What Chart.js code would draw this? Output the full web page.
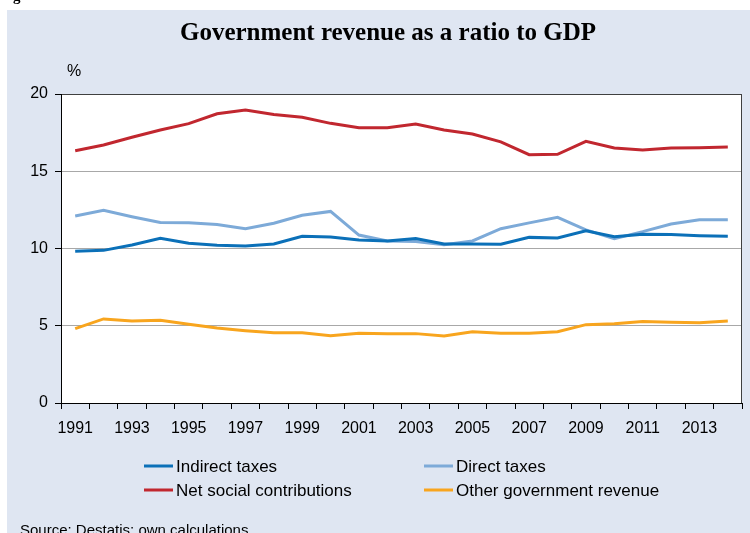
<!DOCTYPE html>
<html>
<head>
<meta charset="utf-8">
<script src="https://cdn.jsdelivr.net/npm/chart.js@4.4.0/dist/chart.umd.min.js"></script>
<style>
  body { margin: 0; background: #fff; }
  canvas { display: block; }
</style>
</head>
<body>
<canvas id="revenueChart" width="750" height="533"></canvas>
<script>
const years = [];
for (let y = 1991; y <= 2014; y++) years.push(String(y));

const indirectTaxes = [9.82, 9.88, 10.23, 10.66, 10.34, 10.21, 10.16, 10.29, 10.79, 10.74, 10.55, 10.49,
  10.64, 10.29, 10.29, 10.27, 10.72, 10.68, 11.15, 10.76, 10.92, 10.91, 10.83, 10.79];
const directTaxes = [12.1, 12.47, 12.06, 11.69, 11.67, 11.56, 11.28, 11.63, 12.15, 12.4, 10.87, 10.49,
  10.45, 10.25, 10.49, 11.28, 11.66, 12.02, 11.2, 10.64, 11.09, 11.59, 11.86, 11.86];
const socialContributions = [16.33, 16.7, 17.2, 17.67, 18.08, 18.72, 18.96, 18.68, 18.49, 18.1, 17.82, 17.82,
  18.06, 17.67, 17.41, 16.9, 16.07, 16.1, 16.94, 16.5, 16.38, 16.5, 16.52, 16.57];
const otherRevenue = [4.81, 5.44, 5.31, 5.35, 5.09, 4.85, 4.68, 4.55, 4.55, 4.36, 4.51, 4.49,
  4.49, 4.34, 4.61, 4.51, 4.51, 4.61, 5.07, 5.13, 5.28, 5.22, 5.2, 5.31];

const yTicks = [0, 5, 10, 15, 20];

const FONT = "Arial, 'Liberation Sans', sans-serif";

// background panel, title, % label, box lines, legend and source
const decor = {
  id: "decor",
  beforeDraw(chart) {
    const c = chart.ctx;
    const a = chart.chartArea;
    c.save();
    c.fillStyle = "#fff";
    c.fillRect(0, 0, chart.width, chart.height);
    c.fillStyle = "#DFE6F2";
    c.fillRect(7, 10, chart.width - 7, chart.height - 10);
    c.fillStyle = "#fff";
    c.fillRect(a.left, a.top, a.right - a.left, a.bottom - a.top);
    c.restore();
  },
  afterDraw(chart) {
    const c = chart.ctx;
    const a = chart.chartArea;
    c.save();
    // cut-off figure caption
    c.fillStyle = "#000";
    c.font = "bold 15px 'Liberation Serif', serif";
    c.textBaseline = "alphabetic";
    c.fillText("g", 13, 1);

    c.font = "bold 25px 'Liberation Serif', 'Times New Roman', serif";
    c.textAlign = "center";
    c.textBaseline = "middle";
    c.fillText("Government revenue as a ratio to GDP", 388, 34);

    c.font = "16px " + FONT;
    c.fillText("%", 74, 72);

    // right border of the plot
    c.strokeStyle = "#404040";
    c.lineWidth = 1;
    c.beginPath();
    c.moveTo(a.right - 0.5, a.top);
    c.lineTo(a.right - 0.5, a.bottom);
    c.stroke();

    // legend, two columns
    const cols = [144, 424];
    const rows = [466, 490];
    chart.data.datasets.forEach((ds, i) => {
      const x = cols[i % 2];
      const y = rows[Math.floor(i / 2)];
      c.strokeStyle = ds.borderColor;
      c.lineWidth = 3;
      c.beginPath();
      c.moveTo(x, y);
      c.lineTo(x + 29, y);
      c.stroke();
      c.fillStyle = "#000";
      c.textAlign = "left";
      c.textBaseline = "middle";
      c.font = "17px " + FONT;
      c.fillText(ds.label, x + 32, y + 1);
    });

    c.font = "15px " + FONT;
    c.textBaseline = "alphabetic";
    c.fillText("Source: Destatis; own calculations.", 20, 535);
    c.restore();
  }
};

new Chart(document.getElementById("revenueChart"), {
  type: "line",
  data: {
    labels: years,
    datasets: [
      { label: "Indirect taxes", data: indirectTaxes, borderColor: "#0B70B8" },
      { label: "Direct taxes", data: directTaxes, borderColor: "#7DAAD8" },
      { label: "Net social contributions", data: socialContributions, borderColor: "#C1272F" },
      { label: "Other government revenue", data: otherRevenue, borderColor: "#F8A51E" }
    ].map(d => Object.assign(d, { borderWidth: 3, pointRadius: 0, tension: 0, fill: false }))
  },
  options: {
    responsive: false,
    animation: false,
    layout: { padding: { top: 94, left: 0, right: 8, bottom: 95 } },
    plugins: { legend: { display: false }, title: { display: false }, tooltip: { enabled: false } },
    scales: {
      x: {
        offset: true,
        grid: { offset: true, drawOnChartArea: false, color: "#000", tickLength: 6 },
        border: { color: "#000", width: 1 },
        ticks: {
          autoSkip: false, maxRotation: 0, color: "#000", padding: 10,
          font: { family: FONT, size: 16 },
          callback: (v, i) => (i % 2 === 0 ? years[i] : "")
        },
        afterFit: s => { s.height = 35; }
      },
      y: {
        min: 0, max: 20,
        afterBuildTicks: s => { s.ticks = yTicks.map(v => ({ value: v })); },
        grid: {
          color: ctx => (ctx.tick && ctx.tick.value === 20 ? "#404040" : "#A8A8A8"),
          tickColor: "#000",
          tickLength: 6
        },
        border: { color: "#000", width: 1 },
        ticks: { color: "#000", padding: 7, font: { family: FONT, size: 16 } },
        afterFit: s => { s.width = 61; }
      }
    }
  },
  plugins: [decor]
});
</script>
</body>
</html>
